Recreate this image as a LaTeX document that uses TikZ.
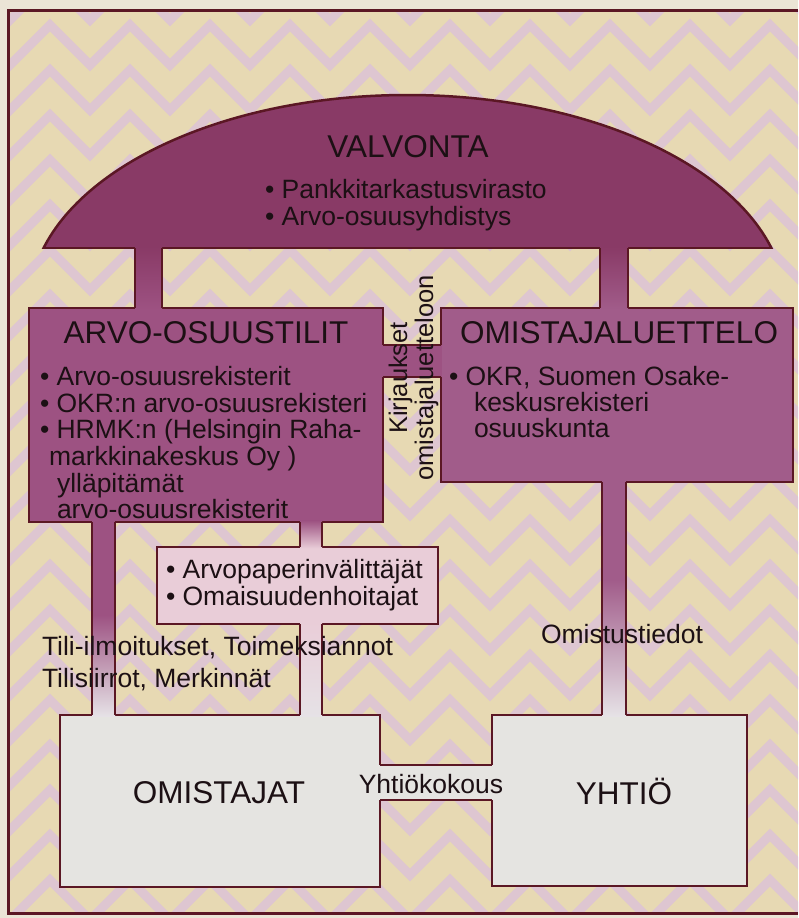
\documentclass[tikz,border=0pt]{standalone}
\usepackage{fontspec}
\setmainfont{Liberation Sans}
\usetikzlibrary{calc}
\definecolor{outerbg}{HTML}{EBE4D6}
\definecolor{beige}{HTML}{E7D9B3}
\definecolor{zigpink}{HTML}{DEC6D1}
\definecolor{bdcol}{HTML}{5B1724}
\definecolor{domecol}{HTML}{893A66}
\definecolor{arvocol}{HTML}{9D5282}
\definecolor{omiscol}{HTML}{A15C8A}
\definecolor{brokcol}{HTML}{E9CDD8}
\definecolor{lightbox}{HTML}{E5E4E1}
\definecolor{stemlight}{HTML}{E6E2E6}
\definecolor{txtcol}{HTML}{1C1014}
\newcommand\bodyfont{\fontsize{26.5}{27}\selectfont}
\newcommand\titlefont{\fontsize{31.5}{33}\selectfont}
\newcommand\rotfont{\fontsize{25.5}{26}\selectfont}
\tikzset{
  bd/.style={draw=bdcol, line width=2.5pt},
  box/.style={draw=bdcol, line width=2.5pt, inner sep=0pt, outer sep=0pt, anchor=north west},
  txt/.style={text=txtcol, inner sep=0pt, outer sep=0pt},
  zig/.style={draw=zigpink, line width=9pt, line join=miter},
}
% vertical connector band with gradient
\newcommand\stemv[6]{%
  \shade[top color=#5, bottom color=#6] ($(#1,0 |- #3)+(0,-1.4)$) rectangle ($(#2,0 |- #4)+(0,1.4)$);
  \draw[bd] (#1,0 |- #3) -- (#1,0 |- #4) (#2,0 |- #3) -- (#2,0 |- #4);}
% vertical connector band: solid, then gradient from y=#5
\newcommand\stemvs[7]{%
  \fill[#6] ($(#1,0 |- #3)+(0,-1.4)$) rectangle (#2,#5+0.6);
  \shade[top color=#6, bottom color=#7] (#1,#5) rectangle ($(#2,0 |- #4)+(0,1.4)$);
  \draw[bd] (#1,0 |- #3) -- (#1,0 |- #4) (#2,0 |- #3) -- (#2,0 |- #4);}
% horizontal connector band
\newcommand\bandh[5]{%
  \fill[#5] ($(#3.east |- 0,#1)+(-1.4,0)$) rectangle ($(#4.west |- 0,#2)+(1.4,0)$);
  \draw[bd] (#3.east |- 0,#1) -- (#4.west |- 0,#1) (#3.east |- 0,#2) -- (#4.west |- 0,#2);}
\begin{document}
\begin{tikzpicture}[x=1pt, y=-1pt]
\useasboundingbox (0,0) rectangle (798,918);
\fill[outerbg] (0,0) rectangle (798,918);
% woven background
\begin{scope}
  \clip (8.5,10) rectangle (798,913);
  \fill[beige] (0,0) rectangle (798,918);
  \foreach \r in {0,...,21} {
    \draw[zig] (-30,{\r*45-20}) \foreach \i in {0,...,10} { -- ++(40,40) -- ++(40,-40) };
  }
\end{scope}
\draw[draw=bdcol, line width=3pt] (798,10) -- (8.5,10) -- (8.5,913) -- (798,913);

% VALVONTA dome
\node[inner sep=0pt, outer sep=0pt, minimum width=727pt, minimum height=153pt, anchor=south west] (valv) at (44,248) {};
\begin{scope}
  \clip ($(valv.south west)+(-8,0)$) rectangle ($(valv.north east)+(8,-8)$);
  \fill[domecol] (407.5,305) ellipse [x radius=378pt, y radius=210pt];
  \draw[bd] (407.5,305) ellipse [x radius=378pt, y radius=210pt];
\end{scope}
\draw[bd, line join=round] (valv.south west) -- (valv.south east);

% boxes
\node[box, fill=arvocol, minimum width=354pt, minimum height=214pt] (arvo) at (29,308) {};
\node[box, fill=omiscol, minimum width=352pt, minimum height=174pt] (omis) at (441,308) {};
\node[box, fill=brokcol, minimum width=281pt, minimum height=77pt] (broker) at (157,547) {};
\node[box, fill=lightbox, minimum width=320pt, minimum height=172pt] (owners) at (60,715) {};
\node[box, fill=lightbox, minimum width=255pt, minimum height=171pt] (yhtio) at (492,715) {};

% connectors
\stemv{135}{162}{valv.south}{arvo.north}{domecol}{arvocol}
\stemv{600}{628}{valv.south}{omis.north}{domecol}{omiscol}
\stemvs{92}{115}{arvo.south}{owners.north}{615}{arvocol}{stemlight}
\stemv{300}{322}{arvo.south}{broker.north}{arvocol}{brokcol}
\stemv{300}{322}{broker.south}{owners.north}{brokcol}{stemlight}
\stemvs{602}{626}{omis.south}{yhtio.north}{580}{omiscol}{stemlight}
\bandh{345}{377}{arvo}{omis}{arvocol}
\bandh{765}{800}{owners}{yhtio}{lightbox}

% texts
\node[txt, anchor=base] (valvT) at (408,157) {\titlefont VALVONTA};
\node[txt, anchor=base west] (valvA) at (265,198) {\bodyfont • Pankkitarkastusvirasto};
\node[txt, anchor=base west] (valvB) at (265,225) {\bodyfont • Arvo-osuusyhdistys};

\node[txt, anchor=base] (arvoT) at (206,343) {\titlefont ARVO-OSUUSTILIT};
\node[txt, anchor=base west] (arvo1) at (40,385) {\bodyfont • Arvo-osuusrekisterit};
\node[txt, anchor=base west] (arvo2) at (40,412) {\bodyfont • OKR:n arvo-osuusrekisteri};
\node[txt, anchor=base west] (arvo3) at (40,438) {\bodyfont • HRMK:n (Helsingin Raha-};
\node[txt, anchor=base west] (arvo4) at (49,465) {\bodyfont markkinakeskus Oy )};
\node[txt, anchor=base west] (arvo5) at (57,492) {\bodyfont ylläpitämät};
\node[txt, anchor=base west] (arvo6) at (57,518) {\bodyfont arvo-osuusrekisterit};

\node[txt, anchor=base] (omisT) at (619,343) {\titlefont OMISTAJALUETTELO};
\node[txt, anchor=base west] (omis1) at (449,385) {\bodyfont • OKR, Suomen Osake-};
\node[txt, anchor=base west] (omis2) at (474,411) {\bodyfont keskusrekisteri};
\node[txt, anchor=base west] (omis3) at (474,437) {\bodyfont osuuskunta};

\node[txt, rotate=90, anchor=base] (kirj1) at (407,378) {\rotfont Kirjaukset};
\node[txt, rotate=90, anchor=base] (kirj2) at (433,378) {\rotfont omistajaluetteloon};

\node[txt, anchor=base west] (brok1) at (166,578) {\bodyfont • Arvopaperinvälittäjät};
\node[txt, anchor=base west] (brok2) at (166,605) {\bodyfont • Omaisuudenhoitajat};

\node[txt, anchor=base west] (tili1) at (42,655) {\bodyfont Tili-ilmoitukset, Toimeksiannot};
\node[txt, anchor=base west] (tili2) at (42,687) {\bodyfont Tilisiirrot, Merkinnät};
\node[txt, anchor=base west] (omtied) at (541,643) {\bodyfont Omistustiedot};
\node[txt, anchor=base] (yhtkok) at (431,793) {\bodyfont Yhtiökokous};

\node[txt, anchor=base] (ownersT) at (219,803) {\titlefont OMISTAJAT};
\node[txt, anchor=base] (yhtioT) at (624,804) {\titlefont YHTIÖ};
\end{tikzpicture}
\end{document}
